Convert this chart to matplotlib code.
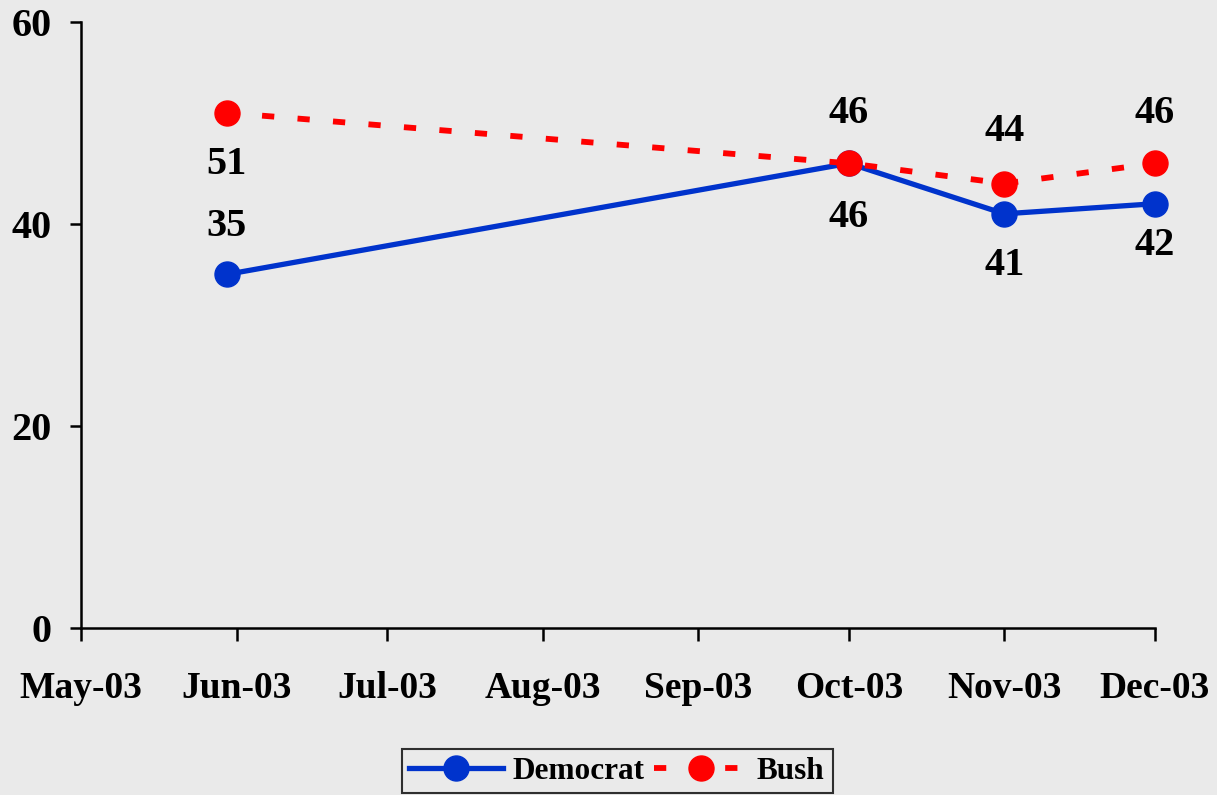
import matplotlib.pyplot as plt
import matplotlib.dates as mdates
import pandas as pd

# data
dates = ["2003-05-30", "2003-10-01", "2003-11-01", "2003-12-01"]
democrat = [35, 46, 41, 42]
bush = [51, 46, 44, 46]
# label offsets (pixels) above/below each point
dem_offsets = [48, -54, -52, -42]
bush_offsets = [-52, 50, 52, 50]

x = pd.to_datetime(dates)
bg = "#EAEAEA"
plt.rcParams['font.family'] = ['Liberation Serif', 'DejaVu Serif']
plt.rcParams['font.weight'] = 'bold'

fig = plt.figure(figsize=(12.17, 7.95), dpi=100, facecolor=bg)
ax = fig.add_axes([0.0666, 0.21, 0.8824, 0.7625])
ax.set_facecolor(bg)

ax.plot(x, democrat, color="#0033CC", lw=3.8, marker='o', markersize=18,
        label="Democrat", clip_on=False, zorder=3)
ax.plot(x, bush, color="#FF0000", lw=4.2, ls=(0, (2.1, 4.0)), marker='o',
        markersize=18, label="Bush", clip_on=False, zorder=4)

for xi, v, off in zip(x, democrat, dem_offsets):
    ax.annotate(str(v), (xi, v), xytext=(0, off), textcoords='offset pixels',
                ha='center', va='center', fontsize=29, fontweight='bold')
for xi, v, off in zip(x, bush, bush_offsets):
    ax.annotate(str(v), (xi, v), xytext=(0, off), textcoords='offset pixels',
                ha='center', va='center', fontsize=29, fontweight='bold')

ax.set_ylim(0, 60)
ax.set_yticks([0, 20, 40, 60])
ax.set_xlim(pd.Timestamp("2003-05-01"), pd.Timestamp("2003-12-01"))
ax.xaxis.set_major_locator(mdates.MonthLocator())
ax.xaxis.set_major_formatter(mdates.DateFormatter('%b-%y'))

for s in ['top', 'right']:
    ax.spines[s].set_visible(False)
for s in ['left', 'bottom']:
    ax.spines[s].set_linewidth(1.8)
    ax.spines[s].set_color('black')
ax.tick_params(axis='y', length=8, width=1.8, pad=13, labelsize=29)
ax.tick_params(axis='x', length=9, width=1.8, pad=22, labelsize=27)
for lbl in ax.get_xticklabels() + ax.get_yticklabels():
    lbl.set_fontweight('bold')

leg = fig.legend(loc='lower center', bbox_to_anchor=(0.507, -0.002), ncol=2,
                 fontsize=22.5, frameon=True, fancybox=False, edgecolor='black',
                 facecolor=bg, handlelength=3.0, columnspacing=0.3,
                 handletextpad=0.3, borderpad=0.25, borderaxespad=0.1)
leg.get_frame().set_linewidth(1.5)

fig.savefig("out.png", dpi=100, facecolor=bg)
